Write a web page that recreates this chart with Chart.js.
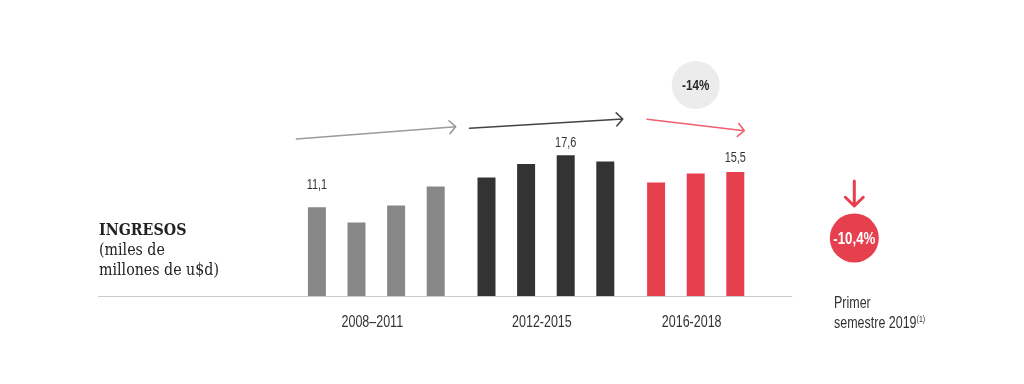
<!DOCTYPE html>
<html lang="es">
<head>
<meta charset="utf-8">
<title>Ingresos</title>
<script src="https://cdn.jsdelivr.net/npm/chart.js@4/dist/chart.umd.min.js"></script>
<style>
  html, body { margin: 0; padding: 0; background: #fff; }
  #wrap { position: relative; width: 1024px; height: 384px; overflow: hidden; }
  #ingresosChart { position: absolute; left: 0; top: 0; }
  .titulo {
    position: absolute; left: 99px; top: 219px;
    font-family: "DejaVu Serif Condensed", "DejaVu Serif", serif;
    color: #222; font-size: 17px; line-height: 20px;
    transform: scaleX(0.93); transform-origin: left top;
  }
  .titulo b { font-size: 17px; }
  .semestre {
    position: absolute; left: 834px; top: 294px;
    font-family: "Liberation Sans", Arial, sans-serif;
    color: #333; font-size: 16px; line-height: 17px;
    transform: scaleX(0.78); transform-origin: left top;
    white-space: nowrap;
  }
  .semestre sup { font-size: 9px; vertical-align: 6px; }
</style>
</head>
<body>
<div id="wrap">
  <canvas id="ingresosChart" width="1024" height="384"></canvas>
  <div class="titulo"><b>INGRESOS</b><br>(miles de<br>millones de u$d)</div>
  <div class="semestre">Primer<br>semestre 2019<sup>(1)</sup></div>
</div>
<script>
// periodos y valores por año (miles de millones de u$d)
const periodos = ["2008–2011", "2012-2015", "2016-2018"];
const ingresos2008_2011 = [11.1, 9.2, 11.3, 13.7];
const ingresos2012_2015 = [14.8, 16.5, 17.6, 16.8];
const ingresos2016_2018 = [14.2, 15.3, 15.5];
const coloresPeriodo = ["#878787", "#333333", "#e6404f"];
const coloresFlecha = ["#9b9b9b", "#444444", "#ef5f6d"];

// barras con etiqueta: [periodo, año dentro del periodo]
const conEtiqueta = [[0, 0], [1, 2], [2, 2]];
const variacionPeriodo = "-14%";
const variacionSemestre = "-10,4%";

const valores = [ingresos2008_2011, ingresos2012_2015, ingresos2016_2018];
const datasets = [0, 1, 2, 3].map((i) => ({
  label: `Año ${i + 1}`,
  data: valores.map((v) => v[i] ?? null),
  backgroundColor: coloresPeriodo,
  categoryPercentage: 0.934,
  barPercentage: 0.4545,
}));

const fmt = (v) => v.toFixed(1).replace(".", ",");
const SANS = '"Liberation Sans", Arial, sans-serif';
const ANGOSTO = 0.78; // la tipografía original es condensada

// texto comprimido horizontalmente, centrado en x
function texto(ctx, t, x, y) {
  ctx.save();
  ctx.translate(x, y);
  ctx.scale(ANGOSTO, 1);
  ctx.textAlign = "center";
  ctx.fillText(t, 0, 0);
  ctx.restore();
}

function flecha(ctx, x0, y0, x1, y1, color, ancho, punta) {
  const ang = Math.atan2(y1 - y0, x1 - x0);
  ctx.strokeStyle = color;
  ctx.lineWidth = ancho;
  ctx.lineCap = "round";
  ctx.lineJoin = "round";
  ctx.beginPath();
  ctx.moveTo(x0, y0);
  ctx.lineTo(x1, y1);
  ctx.moveTo(x1 - punta * Math.cos(ang - 0.8), y1 - punta * Math.sin(ang - 0.8));
  ctx.lineTo(x1, y1);
  ctx.lineTo(x1 - punta * Math.cos(ang + 0.8), y1 - punta * Math.sin(ang + 0.8));
  ctx.stroke();
}

function circulo(ctx, x, y, r, fondo, t, colorTexto, size) {
  ctx.fillStyle = fondo;
  ctx.beginPath();
  ctx.arc(x, y, r, 0, Math.PI * 2);
  ctx.fill();
  ctx.fillStyle = colorTexto;
  ctx.font = `bold ${size}px ${SANS}`;
  ctx.textBaseline = "middle";
  texto(ctx, t, x, y + 1);
}

const decoraciones = {
  id: "decoraciones",
  beforeDatasetsDraw(chart) {
    const { ctx, scales } = chart;
    const y0 = Math.round(scales.y.getPixelForValue(0)) + 0.5;
    ctx.save();
    ctx.strokeStyle = "#cdcdcd";
    ctx.lineWidth = 1;
    ctx.beginPath();
    ctx.moveTo(98, y0);
    ctx.lineTo(chart.chartArea.right - 8, y0);
    ctx.stroke();
    ctx.restore();
  },
  afterDatasetsDraw(chart) {
    const { ctx, chartArea } = chart;
    const bar = (p, i) => chart.getDatasetMeta(i).data[p];
    ctx.save();

    // etiquetas de periodo bajo cada grupo
    ctx.fillStyle = "#333";
    ctx.font = `16px ${SANS}`;
    ctx.textBaseline = "middle";
    periodos.forEach((p, k) => {
      const n = valores[k].length;
      const cx = (bar(k, 0).x + bar(k, n - 1).x) / 2 - 4;
      texto(ctx, p, cx, 323);
    });

    // valores sobre barras
    ctx.font = `14px ${SANS}`;
    ctx.fillStyle = "#333";
    ctx.textBaseline = "alphabetic";
    const dy = [18, 8, 10];
    conEtiqueta.forEach(([p, i], k) => {
      const b = bar(p, i);
      texto(ctx, fmt(valores[p][i]), b.x, b.y - dy[k]);
    });

    // flechas de tendencia
    const top = chartArea.top;
    const tramos = [
      [-20.5, 3, 20, -9.3],
      [-17, -7.7, 17.5, -17],
      [-9, -16.7, 9, -5.3],
    ];
    tramos.forEach(([dx0, dy0, dx1, dy1], k) => {
      const n = valores[k].length;
      const a = bar(k, 0), b = bar(k, n - 1);
      flecha(ctx, a.x + dx0, top + dy0, b.x + dx1, top + dy1, coloresFlecha[k], 1.6, 9);
    });

    // variación del último periodo
    circulo(ctx, bar(2, 1).x, top - 51, 24, "#ececec", variacionPeriodo, "#2a2a2a", 15);

    // primer semestre 2019
    const sx = chartArea.right + 54;
    flecha(ctx, sx, 181, sx, 206, "#e6404f", 3, 12.5);
    circulo(ctx, sx, 238, 24.5, "#e6404f", variacionSemestre, "#fff", 17);

    ctx.restore();
  },
};

new Chart(document.getElementById("ingresosChart"), {
  type: "bar",
  data: { labels: periodos, datasets },
  options: {
    responsive: false,
    animation: false,
    layout: { padding: { left: 291.5, right: 223.7, top: 136, bottom: 88 } },
    scales: {
      x: { display: false },
      y: { display: false, min: 0, max: 20 },
    },
    plugins: {
      legend: { display: false },
      tooltip: { enabled: false },
    },
  },
  plugins: [decoraciones],
});
</script>
</body>
</html>
